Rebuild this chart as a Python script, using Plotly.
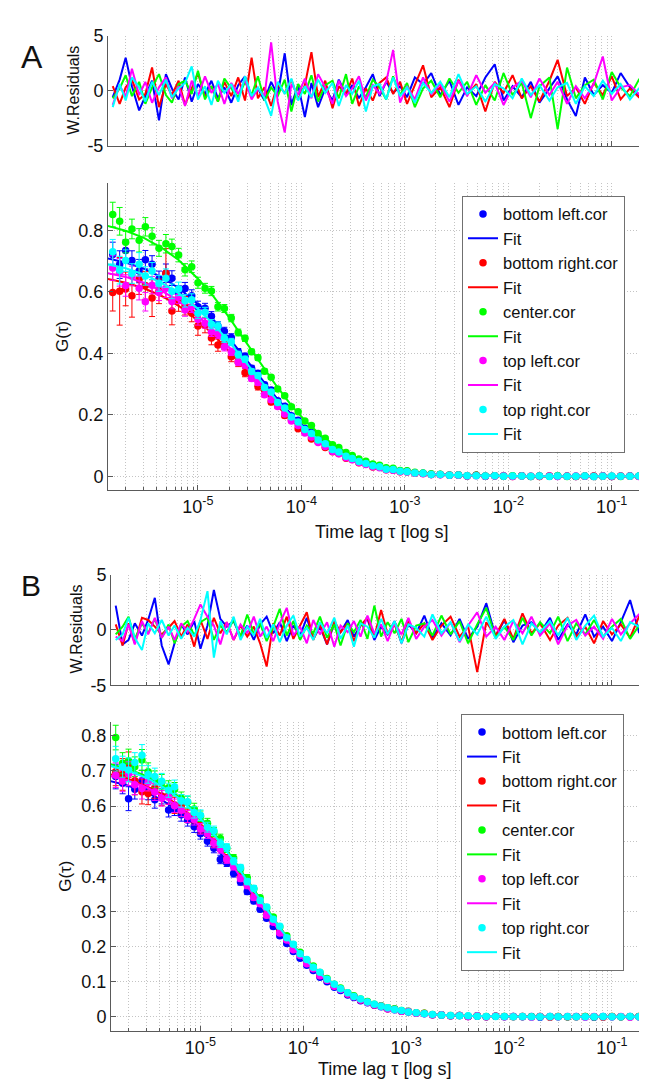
import math
import plotly.graph_objects as go

# ---------------- data ----------------
tau = [1.5e-6, 1.75e-6, 2.0e-6, 2.3e-6, 2.7e-6, 3.1e-6, 3.6e-6, 4.2e-6, 4.9e-6, 5.6e-6, 6.5e-6, 7.5e-6,
       8.7e-6, 1.0e-5, 1.17e-5, 1.35e-5, 1.56e-5, 1.8e-5, 2.1e-5, 2.45e-5, 2.85e-5, 3.3e-5, 3.8e-5, 4.4e-5,
       5.1e-5, 5.9e-5, 6.9e-5, 8.0e-5, 9.3e-5, 1.08e-4, 1.25e-4, 1.45e-4, 1.7e-4, 2.0e-4, 2.3e-4, 2.7e-4,
       3.1e-4, 3.6e-4, 4.2e-4, 4.9e-4, 5.7e-4, 6.6e-4, 7.7e-4, 9.0e-4, 1.05e-3, 1.25e-3, 1.5e-3, 1.8e-3,
       2.2e-3, 2.7e-3, 3.3e-3, 4.0e-3, 4.9e-3, 6.0e-3, 7.4e-3, 9.0e-3, 1.1e-2, 1.35e-2, 1.65e-2, 2.0e-2,
       2.5e-2, 3.0e-2, 3.7e-2, 4.5e-2, 5.5e-2, 6.7e-2, 8.2e-2, 0.1, 0.122, 0.15, 0.183, 0.27]

tau_fit = [1.3e-6, 2e-6, 3e-6, 4.5e-6, 6.5e-6, 1e-5, 1.4e-5, 2e-5, 2.8e-5, 4e-5, 5.6e-5, 8e-5, 1.1e-4,
           1.6e-4, 2.2e-4, 3.2e-4, 4.5e-4, 6.3e-4, 9e-4, 1.3e-3, 2e-3, 3.5e-3, 7e-3, 1.5e-2, 4e-2, 0.1, 0.27]

series_names = ["bottom left.cor", "bottom right.cor", "center.cor", "top left.cor", "top right.cor"]
series_colors = ["#0000ff", "#ff0000", "#00ff00", "#ff00ff", "#00ffff"]

# ----- Panel A : G(tau) data -----
A_blue_G = [0.722, 0.689, 0.735, 0.702, 0.668, 0.705, 0.690, 0.642, 0.661, 0.645, 0.598, 0.611,
            0.588, 0.552, 0.547, 0.521, 0.489, 0.472, 0.452, 0.405, 0.391, 0.352, 0.335, 0.298,
            0.281, 0.246, 0.228, 0.197, 0.182, 0.156, 0.143, 0.121, 0.109, 0.089, 0.081, 0.066,
            0.059, 0.049, 0.043, 0.035, 0.031, 0.024, 0.022, 0.017, 0.016, 0.011, 0.010, 0.006,
            0.006, 0.003, 0.004, 0.001, 0.003, 0.000, 0.002, 0.001, 0.000, 0.002, -0.001, 0.001,
            0.000, 0.001, 0.000, -0.001, 0.001, 0.000, 0.001, -0.001, 0.000, 0.001, 0.000, 0.000]
A_red_G = [0.598, 0.602, 0.610, 0.588, 0.642, 0.621, 0.580, 0.602, 0.661, 0.538, 0.572, 0.555,
           0.531, 0.489, 0.492, 0.450, 0.427, 0.431, 0.389, 0.372, 0.337, 0.326, 0.292, 0.281,
           0.242, 0.230, 0.198, 0.184, 0.155, 0.146, 0.121, 0.112, 0.094, 0.080, 0.074, 0.059,
           0.055, 0.044, 0.040, 0.030, 0.029, 0.021, 0.020, 0.015, 0.014, 0.010, 0.009, 0.006,
           0.006, 0.003, 0.004, 0.001, 0.003, 0.000, 0.002, 0.001, -0.001, 0.002, 0.000, -0.001,
           0.001, 0.000, 0.001, -0.001, 0.000, 0.001, 0.000, -0.001, 0.001, 0.000, 0.000, 0.001]
A_green_G = [0.852, 0.830, 0.762, 0.805, 0.768, 0.812, 0.781, 0.742, 0.757, 0.748, 0.720, 0.672,
             0.682, 0.630, 0.612, 0.603, 0.552, 0.546, 0.515, 0.468, 0.449, 0.405, 0.386, 0.342,
             0.322, 0.284, 0.262, 0.226, 0.210, 0.180, 0.165, 0.139, 0.124, 0.103, 0.094, 0.077,
             0.068, 0.056, 0.049, 0.040, 0.036, 0.028, 0.026, 0.019, 0.018, 0.013, 0.011, 0.008,
             0.007, 0.004, 0.004, 0.002, 0.003, 0.001, 0.002, 0.000, 0.002, 0.001, -0.001, 0.001,
             0.000, 0.002, -0.001, 0.000, 0.001, -0.001, 0.001, 0.000, -0.001, 0.001, 0.000, 0.001]
A_magenta_G = [0.678, 0.664, 0.621, 0.652, 0.612, 0.568, 0.622, 0.598, 0.612, 0.569, 0.584, 0.541,
               0.552, 0.510, 0.498, 0.470, 0.462, 0.421, 0.405, 0.371, 0.362, 0.318, 0.305, 0.265,
               0.249, 0.227, 0.203, 0.180, 0.165, 0.141, 0.128, 0.110, 0.097, 0.081, 0.073, 0.060,
               0.054, 0.045, 0.038, 0.031, 0.028, 0.021, 0.020, 0.015, 0.014, 0.010, 0.008, 0.006,
               0.005, 0.003, 0.003, 0.001, 0.002, 0.000, 0.001, 0.001, -0.001, 0.001, 0.000, 0.000,
               0.001, -0.001, 0.000, 0.001, 0.000, -0.001, 0.001, 0.000, 0.000, 0.001, -0.001, 0.000]
A_cyan_G = [0.731, 0.671, 0.702, 0.660, 0.690, 0.652, 0.668, 0.628, 0.645, 0.602, 0.610, 0.571,
            0.575, 0.531, 0.534, 0.495, 0.488, 0.449, 0.437, 0.396, 0.381, 0.341, 0.328, 0.289,
            0.274, 0.240, 0.222, 0.193, 0.177, 0.152, 0.139, 0.118, 0.106, 0.087, 0.079, 0.065,
            0.058, 0.048, 0.042, 0.034, 0.031, 0.023, 0.022, 0.016, 0.015, 0.011, 0.010, 0.006,
            0.006, 0.003, 0.004, 0.002, 0.002, 0.001, 0.002, 0.000, 0.001, 0.001, 0.000, 0.001,
            -0.001, 0.001, 0.000, 0.000, 0.001, -0.001, 0.000, 0.001, 0.000, 0.000, 0.001, 0.000]

A_err = [0.040, 0.045, 0.035, 0.032, 0.038, 0.030, 0.028, 0.026, 0.030, 0.024, 0.022, 0.020,
         0.019, 0.018, 0.016, 0.015, 0.014, 0.013, 0.012, 0.011, 0.010, 0.009, 0.009, 0.008,
         0.007, 0.007, 0.006, 0.006, 0.005, 0.005, 0.004, 0.004, 0.004, 0.003, 0.003, 0.003,
         0.003, 0.002, 0.002, 0.002, 0.002, 0.002, 0.002, 0.001, 0.001, 0.001, 0.001, 0.001,
         0.001, 0.001, 0.001, 0.001, 0.001, 0.001, 0.001, 0.001, 0.001, 0.001, 0.001, 0.001,
         0.001, 0.001, 0.001, 0.001, 0.001, 0.001, 0.001, 0.001, 0.001, 0.001, 0.001, 0.001]
A_red_err = [0.060, 0.110, 0.055, 0.070, 0.050, 0.045, 0.060, 0.040, 0.080, 0.045, 0.035, 0.030,
             0.028, 0.030, 0.025, 0.022, 0.020, 0.018, 0.016, 0.015, 0.013, 0.012, 0.011, 0.010,
             0.009, 0.008, 0.008, 0.007, 0.006, 0.006, 0.005, 0.005, 0.004, 0.004, 0.003, 0.003,
             0.003, 0.003, 0.002, 0.002, 0.002, 0.002, 0.002, 0.002, 0.001, 0.001, 0.001, 0.001,
             0.001, 0.001, 0.001, 0.001, 0.001, 0.001, 0.001, 0.001, 0.001, 0.001, 0.001, 0.001,
             0.001, 0.001, 0.001, 0.001, 0.001, 0.001, 0.001, 0.001, 0.001, 0.001, 0.001, 0.001]

# ----- Panel A : fits -----
A_blue_fit = [0.710, 0.696, 0.676, 0.647, 0.613, 0.560, 0.511, 0.450, 0.388, 0.321, 0.260, 0.201, 0.156,
              0.112, 0.084, 0.057, 0.039, 0.027, 0.017, 0.011, 0.006, 0.003, 0.001, 0.000, 0.000, 0.000, 0.000]
A_red_fit = [0.643, 0.630, 0.612, 0.586, 0.555, 0.507, 0.462, 0.407, 0.351, 0.291, 0.236, 0.182, 0.141,
             0.102, 0.076, 0.052, 0.036, 0.024, 0.016, 0.010, 0.006, 0.003, 0.001, 0.000, 0.000, 0.000, 0.000]
A_green_fit = [0.816, 0.799, 0.776, 0.743, 0.704, 0.643, 0.587, 0.517, 0.445, 0.369, 0.299, 0.231, 0.179,
               0.129, 0.096, 0.065, 0.045, 0.031, 0.020, 0.013, 0.007, 0.003, 0.001, 0.000, 0.000, 0.000, 0.000]
A_magenta_fit = [0.662, 0.649, 0.630, 0.603, 0.571, 0.522, 0.476, 0.420, 0.362, 0.299, 0.243, 0.188, 0.146,
                 0.105, 0.078, 0.053, 0.037, 0.025, 0.016, 0.010, 0.006, 0.003, 0.001, 0.000, 0.000, 0.000, 0.000]
A_cyan_fit = [0.691, 0.677, 0.657, 0.629, 0.596, 0.545, 0.497, 0.438, 0.377, 0.312, 0.253, 0.196, 0.152,
              0.109, 0.081, 0.055, 0.038, 0.026, 0.017, 0.011, 0.006, 0.003, 0.001, 0.000, 0.000, 0.000, 0.000]

# ----- Panel A : weighted residuals -----
A_blue_res = [-0.6, 1.0, 3.0, 0.4, -1.8, -0.5, 0.9, -2.7, 1.5, 0.2, -0.8, 1.2,
              -1.0, 0.6, -0.3, 0.9, -0.7, 0.3, -1.1, 0.5, 1.3, -0.6, 0.2, -0.9,
              0.8, -0.4, 3.4, -1.3, 0.5, -2.4, 0.7, -1.5, 0.2, -0.9, 1.0, -0.4,
              0.5, -0.7, 0.3, 1.5, -0.5, 0.8, -0.2, 0.4, -0.6, 1.2, 0.6, 1.6,
              -0.4, 0.9, -1.3, 0.3, -0.5, 1.2, 2.4, -0.9, 0.4, -0.6, 0.8, -1.1,
              0.2, 1.3, -0.8, -2.3, 1.2, -0.4, 0.5, -0.2, 1.6, 0.3, -0.5, 0.9]
A_red_res = [0.4, -1.2, 0.3, 1.0, -0.8, -0.3, 2.1, -1.5, 0.6, -0.4, 0.9, -1.3,
             0.2, 1.6, -0.6, 0.4, -1.0, 0.8, -0.5, 1.2, -0.9, 3.0, -0.7, 0.3,
             -1.4, 0.6, -0.2, 1.0, -0.8, 0.5, 3.5, -0.6, 0.9, -1.6, 0.4, -0.3,
             1.1, -1.4, 0.2, -0.9, 0.7, 1.2, -0.3, 0.8, -1.2, 0.5, 2.3, -0.6,
             0.3, -1.5, 1.0, -0.4, 0.6, -1.9, 0.8, -0.2, 1.4, -0.7, 0.4, -1.0,
             0.9, 2.8, -0.5, 0.3, -1.2, 0.7, -0.4, 1.3, -0.8, 0.2, -0.6, 0.5]
A_green_res = [-0.7, 0.2, 1.4, -0.5, 0.8, -1.2, 0.3, 1.5, -0.4, -1.1, 0.6, 0.9,
               -0.3, 1.8, -0.8, 0.4, -1.0, 1.1, 0.2, -0.6, 0.8, -0.4, 1.3, -0.9,
               0.3, -0.5, 1.0, -1.9, 0.6, -0.3, 1.4, -1.0, 0.5, 0.9, -0.7, 1.5,
               -1.2, 0.4, -0.6, 1.0, 0.3, -0.8, 1.3, -0.4, 0.7, -1.5, 0.2, 0.9,
               -0.6, 1.1, -0.2, 0.8, -1.3, 0.5, -0.9, 1.6, -0.4, 0.7, -2.5, 0.4,
               1.2, -3.5, 2.1, -0.7, 0.5, 1.0, -0.8, 1.7, 0.3, -0.5, 1.0, -0.2]
A_magenta_res = [-1.3, 0.5, -0.6, 2.0, -0.4, 0.8, -1.1, 0.3, 1.2, -0.7, 0.4, -1.4,
                 0.9, -0.5, 1.3, -0.2, 0.6, -1.2, 0.7, -0.3, 1.0, -0.8, 0.2, -0.5,
                 4.4, -1.0, -3.8, 0.6, -0.4, 1.1, -0.7, 1.5, 0.3, -1.2, 0.9, -0.5,
                 0.2, 1.3, -0.9, 0.5, -0.3, 0.8, 3.7, -1.1, 0.4, -0.8, 1.2, -0.3,
                 0.6, -1.0, 0.9, -0.5, 1.4, -0.2, 0.7, -1.3, 0.3, 0.9, -0.6, 1.1,
                 -0.4, 0.8, -1.2, 0.4, -0.7, 0.6, 3.1, -0.9, 0.3, 0.5, -0.3, 0.6]
A_cyan_res = [-1.5, 0.6, -0.9, 1.2, 0.3, -1.0, 0.8, -0.4, 1.0, -0.6, 0.2, 0.7,
              2.2, -0.8, 0.4, -1.3, 0.9, -0.2, 0.6, -1.0, 1.3, -0.5, 0.3, -0.7,
              -2.3, 0.8, -0.3, 1.1, -0.9, 0.4, -0.6, 1.0, -0.2, 0.7, -1.4, 0.5,
              -0.3, 0.9, -1.9, 0.4, 0.6, -0.8, 1.2, -0.5, 0.3, -1.1, 0.7, -0.2,
              0.8, -0.6, 1.5, -0.3, 0.4, -1.0, 0.6, 0.2, -0.7, 1.1, -0.4, 0.5,
              -0.9, 0.3, 0.7, -1.2, 0.4, -0.5, 0.9, -0.3, 0.6, -0.8, 0.2, 0.4]

# ----- Panel B : G(tau) data -----
B_blue_G = [0.684, 0.665, 0.621, 0.648, 0.672, 0.643, 0.618, 0.628, 0.589, 0.592, 0.575, 0.560,
            0.541, 0.521, 0.500, 0.480, 0.448, 0.439, 0.408, 0.384, 0.357, 0.330, 0.306, 0.281,
            0.257, 0.231, 0.209, 0.186, 0.167, 0.147, 0.132, 0.113, 0.100, 0.084, 0.075, 0.062,
            0.055, 0.046, 0.040, 0.033, 0.029, 0.023, 0.020, 0.016, 0.014, 0.010, 0.009, 0.006,
            0.005, 0.003, 0.004, 0.001, 0.002, 0.000, 0.002, 0.000, 0.001, 0.000, 0.001, -0.001,
            0.001, 0.000, 0.000, 0.001, 0.000, -0.001, 0.001, 0.000, 0.000, 0.001, 0.000, 0.000]
B_red_G = [0.698, 0.690, 0.718, 0.672, 0.641, 0.636, 0.652, 0.628, 0.630, 0.602, 0.601, 0.572,
           0.568, 0.538, 0.528, 0.496, 0.484, 0.451, 0.432, 0.398, 0.378, 0.344, 0.325, 0.291,
           0.272, 0.241, 0.221, 0.194, 0.176, 0.153, 0.138, 0.118, 0.105, 0.088, 0.079, 0.065,
           0.058, 0.048, 0.042, 0.034, 0.031, 0.023, 0.022, 0.016, 0.015, 0.011, 0.010, 0.006,
           0.006, 0.003, 0.004, 0.001, 0.003, 0.000, 0.002, 0.001, 0.000, 0.001, 0.000, 0.001,
           -0.001, 0.001, 0.000, 0.000, 0.001, 0.000, -0.001, 0.001, 0.000, 0.000, 0.001, 0.000]
B_green_G = [0.795, 0.722, 0.728, 0.712, 0.731, 0.698, 0.676, 0.668, 0.652, 0.648, 0.622, 0.611,
             0.592, 0.571, 0.551, 0.526, 0.508, 0.479, 0.452, 0.421, 0.396, 0.364, 0.339, 0.310,
             0.284, 0.256, 0.231, 0.205, 0.184, 0.162, 0.145, 0.126, 0.109, 0.093, 0.082, 0.069,
             0.060, 0.051, 0.044, 0.036, 0.032, 0.026, 0.023, 0.018, 0.016, 0.012, 0.010, 0.007,
             0.006, 0.004, 0.004, 0.002, 0.003, 0.001, 0.002, 0.001, 0.001, 0.001, 0.000, 0.001,
             0.000, 0.001, 0.000, 0.000, 0.001, 0.000, 0.000, 0.001, 0.000, 0.000, 0.001, 0.000]
B_magenta_G = [0.688, 0.671, 0.692, 0.661, 0.650, 0.668, 0.640, 0.622, 0.625, 0.601, 0.588, 0.570,
               0.562, 0.535, 0.522, 0.494, 0.478, 0.448, 0.428, 0.394, 0.374, 0.340, 0.322, 0.289,
               0.269, 0.239, 0.219, 0.191, 0.175, 0.151, 0.137, 0.117, 0.104, 0.087, 0.078, 0.065,
               0.057, 0.048, 0.041, 0.034, 0.030, 0.023, 0.021, 0.016, 0.015, 0.010, 0.009, 0.006,
               0.006, 0.003, 0.004, 0.001, 0.003, 0.000, 0.002, 0.000, 0.001, 0.001, -0.001, 0.001,
               0.000, 0.000, 0.001, 0.000, -0.001, 0.001, 0.000, 0.000, 0.001, -0.001, 0.000, 0.001]
B_cyan_G = [0.735, 0.712, 0.703, 0.724, 0.745, 0.690, 0.684, 0.671, 0.645, 0.655, 0.615, 0.612,
            0.582, 0.574, 0.540, 0.530, 0.494, 0.482, 0.443, 0.425, 0.385, 0.366, 0.331, 0.313,
            0.278, 0.258, 0.225, 0.207, 0.180, 0.163, 0.141, 0.127, 0.107, 0.093, 0.080, 0.069,
            0.058, 0.051, 0.042, 0.036, 0.030, 0.026, 0.021, 0.018, 0.014, 0.012, 0.009, 0.007,
            0.005, 0.004, 0.003, 0.003, 0.002, 0.001, 0.001, 0.001, 0.000, 0.001, 0.000, 0.000,
            0.001, 0.000, 0.001, 0.000, 0.000, 0.000, 0.001, 0.000, 0.000, 0.001, 0.000, 0.000]

B_err = [0.035, 0.030, 0.034, 0.028, 0.030, 0.025, 0.024, 0.022, 0.020, 0.019, 0.018, 0.017,
         0.016, 0.015, 0.014, 0.013, 0.012, 0.011, 0.010, 0.009, 0.009, 0.008, 0.007, 0.007,
         0.006, 0.006, 0.005, 0.005, 0.004, 0.004, 0.004, 0.003, 0.003, 0.003, 0.003, 0.002,
         0.002, 0.002, 0.002, 0.002, 0.002, 0.001, 0.001, 0.001, 0.001, 0.001, 0.001, 0.001,
         0.001, 0.001, 0.001, 0.001, 0.001, 0.001, 0.001, 0.001, 0.001, 0.001, 0.001, 0.001,
         0.001, 0.001, 0.001, 0.001, 0.001, 0.001, 0.001, 0.001, 0.001, 0.001, 0.001, 0.001]
B_red_err = [0.040, 0.045, 0.036, 0.040, 0.035, 0.032, 0.030, 0.027, 0.025, 0.023, 0.021, 0.019,
             0.016, 0.015, 0.014, 0.013, 0.012, 0.011, 0.010, 0.009, 0.009, 0.008, 0.007, 0.007,
             0.006, 0.006, 0.005, 0.005, 0.004, 0.004, 0.004, 0.003, 0.003, 0.003, 0.003, 0.002,
             0.002, 0.002, 0.002, 0.002, 0.002, 0.001, 0.001, 0.001, 0.001, 0.001, 0.001, 0.001,
             0.001, 0.001, 0.001, 0.001, 0.001, 0.001, 0.001, 0.001, 0.001, 0.001, 0.001, 0.001,
             0.001, 0.001, 0.001, 0.001, 0.001, 0.001, 0.001, 0.001, 0.001, 0.001, 0.001, 0.001]

# ----- Panel B : fits -----
B_blue_fit = [0.672, 0.658, 0.639, 0.612, 0.580, 0.530, 0.483, 0.426, 0.367, 0.304, 0.246, 0.190, 0.148,
              0.106, 0.079, 0.054, 0.037, 0.025, 0.016, 0.010, 0.006, 0.003, 0.001, 0.000, 0.000, 0.000, 0.000]
B_red_fit = [0.691, 0.677, 0.657, 0.629, 0.596, 0.545, 0.497, 0.438, 0.377, 0.312, 0.253, 0.196, 0.152,
             0.109, 0.081, 0.055, 0.038, 0.026, 0.017, 0.011, 0.006, 0.003, 0.001, 0.000, 0.000, 0.000, 0.000]
B_green_fit = [0.720, 0.705, 0.685, 0.656, 0.621, 0.568, 0.518, 0.456, 0.393, 0.326, 0.264, 0.204, 0.158,
               0.114, 0.085, 0.058, 0.040, 0.027, 0.018, 0.011, 0.006, 0.003, 0.001, 0.000, 0.000, 0.000, 0.000]
B_magenta_fit = [0.686, 0.672, 0.653, 0.625, 0.592, 0.541, 0.493, 0.435, 0.375, 0.310, 0.252, 0.194, 0.151,
                 0.109, 0.081, 0.055, 0.038, 0.026, 0.017, 0.011, 0.006, 0.003, 0.001, 0.000, 0.000, 0.000, 0.000]
B_cyan_fit = [0.715, 0.700, 0.680, 0.651, 0.617, 0.564, 0.514, 0.453, 0.390, 0.323, 0.262, 0.203, 0.157,
              0.113, 0.084, 0.057, 0.039, 0.027, 0.018, 0.011, 0.006, 0.003, 0.001, 0.000, 0.000, 0.000, 0.000]

# ----- Panel B : weighted residuals -----
B_blue_res = [2.2, -1.3, -0.9, 0.6, -0.5, 0.9, 2.9, -1.4, -3.1, -1.2, 0.5, -0.4,
              0.8, -1.7, 0.4, 3.6, 1.0, 0.3, 0.8, -0.6, 0.4, -0.9, 0.5, 1.2,
              -0.3, 0.7, -1.0, 0.4, -0.5, 1.1, -0.8, 0.3, -1.3, 0.6, -0.2, 0.9,
              -0.6, 0.4, 1.0, -0.9, 0.3, -0.4, 0.8, -1.2, 0.5, -0.3, 1.3, -0.7,
              0.6, -0.5, 1.0, -0.8, 0.3, 2.4, -0.6, 0.9, -1.1, 0.4, 0.7, -0.3,
              1.1, -0.9, 0.5, -0.4, 1.4, -0.6, 0.3, -1.0, 0.7, 2.7, -0.2, 0.5]
B_red_res = [0.5, -1.4, 0.6, -1.2, 1.1, 0.9, 0.3, -0.4, 0.2, 0.8, -0.6, 0.5,
             -1.5, 0.9, -0.8, 1.1, -0.3, 0.7, -0.9, 0.4, -0.6, 0.3, -1.2, -3.3,
             0.6, -0.5, 1.2, -0.8, 0.4, 1.6, -0.9, 0.5, -1.3, 0.8, -0.2, 0.6,
             -1.0, 0.4, 1.1, -0.6, 1.8, -0.4, 0.5, -1.1, 0.8, -0.3, 0.6, -0.9,
             0.4, 1.2, -0.6, 0.3, -3.8, 0.7, -0.5, 1.0, -0.8, 1.5, -0.3, 0.6,
             -0.9, 0.4, 1.1, -0.6, 0.3, -1.2, 0.8, -0.4, 0.5, -0.7, 1.2, 0.3]
B_green_res = [-0.4, 0.3, 1.2, -0.8, 0.6, -0.3, 1.0, -0.7, 0.5, -1.2, 0.3, 0.8,
               -0.5, 0.7, 1.1, -0.9, 0.4, -0.2, 0.9, -0.6, 1.4, -0.4, 0.6, -1.0,
               0.3, 1.9, -0.5, 0.8, -0.9, 0.4, -0.3, 1.2, -0.7, 0.5, -1.4, 0.6,
               -0.2, 0.9, -0.8, 2.2, -0.6, 0.7, -0.3, 1.0, -1.1, 0.4, 0.6, -0.5,
               1.3, -0.4, 0.8, -1.2, 0.5, 2.0, -0.7, 0.3, -0.9, 1.1, -0.5, 0.7,
               -0.3, 1.2, -1.0, 0.6, -0.4, 0.9, -0.6, 0.3, 1.0, -0.8, 0.4, 0.2]
B_magenta_res = [-0.6, -1.0, 0.5, -1.3, 0.8, -0.4, 1.1, -0.7, 0.3, -0.9, 0.6, -0.2,
                 1.0, 2.3, 1.2, 0.4, -1.3, 0.7, -0.9, 0.5, -0.3, 1.2, -0.6, 0.3,
                 -1.0, 0.6, 2.0, -0.5, 0.3, -1.2, 0.9, -0.4, 0.7, -1.5, 0.4, -0.2,
                 0.8, -0.6, 1.3, -0.3, 0.5, -1.0, 0.6, -0.4, 1.1, -0.8, 0.3, 0.9,
                 -0.5, 0.7, -1.1, 0.4, 1.6, -0.6, 0.3, -0.9, 0.8, -0.3, 1.2, -0.5,
                 0.6, -1.3, 0.4, 0.9, -0.5, 0.3, -0.8, 1.0, -0.4, 0.6, 1.4, 0.8]
B_cyan_res = [-0.9, -0.4, 1.1, -0.7, -1.8, 0.6, -0.3, 0.9, -0.5, 0.4, -0.8, 0.2,
              -0.6, 0.9, 3.5, -2.5, 0.8, -0.4, 1.2, -0.9, 0.3, -0.5, 1.0, -0.7,
              0.5, -1.1, 0.4, 1.3, -0.6, 0.2, -0.9, 0.7, -0.3, 1.1, -0.8, 0.4,
              -1.5, 0.6, 0.3, -0.7, 1.0, -0.4, 0.8, -1.2, 0.5, 0.2, -0.6, 1.4,
              -0.3, 0.7, -1.0, 0.5, -0.4, 1.2, -0.8, 0.3, 0.9, -1.3, 0.6, -0.2,
              0.8, -0.5, 1.1, -0.9, 0.4, 1.3, -0.6, 0.2, -1.0, 0.7, 0.3, -0.4]

x_tick_vals = [1e-5, 1e-4, 1e-3, 1e-2, 1e-1]
x_tick_text = ["10<sup>-5</sup>", "10<sup>-4</sup>", "10<sup>-3</sup>", "10<sup>-2</sup>", "10<sup>-1</sup>"]
x_minor_vals = [m * 10.0 ** e for e in range(-6, 0) for m in range(2, 10)]

panelA = dict(G=[A_blue_G, A_red_G, A_green_G, A_magenta_G, A_cyan_G],
              err=[A_err, A_red_err, A_err, A_err, A_err],
              fit=[A_blue_fit, A_red_fit, A_green_fit, A_magenta_fit, A_cyan_fit],
              res=[A_blue_res, A_red_res, A_green_res, A_magenta_res, A_cyan_res])
panelB = dict(G=[B_blue_G, B_red_G, B_green_G, B_magenta_G, B_cyan_G],
              err=[B_err, B_red_err, B_err, B_err, B_err],
              fit=[B_blue_fit, B_red_fit, B_green_fit, B_magenta_fit, B_cyan_fit],
              res=[B_blue_res, B_red_res, B_green_res, B_magenta_res, B_cyan_res])

for p in (panelA, panelB):
    for k in ("G", "err", "res"):
        for arr in p[k]:
            assert len(arr) == len(tau), (k, len(arr))
    for arr in p["fit"]:
        assert len(arr) == len(tau_fit), len(arr)

# ---------------- figure ----------------
W, H = 647, 1082
FONT = "Liberation Sans, Arial, Helvetica, sans-serif"
AXC = "#5a5a5a"
GRIDC = "#c4c4c4"
GDASH = "1px,2px"
LEGFONT = 16.5


def px(x):
    return x / W


def py(y):
    return 1 - y / H


fig = go.Figure()

panels = [(panelA, "x", "y", "x2", "y2", "legend"), (panelB, "x3", "y3", "x4", "y4", "legend2")]
for p, rx, ry, gx, gy, lg in panels:
    for i in range(5):
        c = series_colors[i]
        fig.add_trace(go.Scatter(x=tau, y=p["res"][i], mode="lines", xaxis=rx, yaxis=ry,
                                 line=dict(color=c, width=2), showlegend=False, hoverinfo="skip"))
    for i in range(5):
        c = series_colors[i]
        fig.add_trace(go.Scatter(x=tau, y=p["G"][i], mode="markers", xaxis=gx, yaxis=gy,
                                 name=series_names[i], legend=lg,
                                 marker=dict(color=c, size=7.5),
                                 error_y=dict(type="data", array=p["err"][i], color=c,
                                              thickness=1, width=3)))
        fig.add_trace(go.Scatter(x=tau_fit, y=p["fit"][i], mode="lines", xaxis=gx, yaxis=gy,
                                 name="Fit", legend=lg, line=dict(color=c, width=2)))

xr = [math.log10(1.35e-6), math.log10(0.262)]


def xaxis(domain, anchor, labels):
    return dict(type="log", range=xr, domain=domain, anchor=anchor,
                showline=True, linecolor=AXC, linewidth=1, mirror=False,
                ticks="inside", ticklen=5, tickcolor=AXC, tickwidth=1,
                tickmode="array", tickvals=x_tick_vals, ticktext=x_tick_text,
                showticklabels=labels, tickfont=dict(size=18, color="#111"),
                showgrid=True, gridcolor=GRIDC, griddash=GDASH, gridwidth=1,
                zeroline=False,
                minor=dict(tickmode="array", tickvals=x_minor_vals, ticks="inside", ticklen=3,
                           tickcolor=AXC, tickwidth=1, showgrid=True, gridcolor=GRIDC,
                           griddash=GDASH, gridwidth=1))


def yaxis(domain, anchor, rng, vals, text, size):
    return dict(range=rng, domain=domain, anchor=anchor,
                showline=True, linecolor=AXC, linewidth=1, mirror=False,
                ticks="inside", ticklen=5, tickcolor=AXC, tickwidth=1,
                tickmode="array", tickvals=vals, ticktext=text,
                tickfont=dict(size=size, color="#111"),
                showgrid=True, gridcolor=GRIDC, griddash=GDASH, gridwidth=1,
                zeroline=False)


dA = [px(100), 1.0]
dB = [px(103), 1.0]
fig.update_layout(
    width=W, height=H, margin=dict(l=0, r=0, t=0, b=0),
    paper_bgcolor="white", plot_bgcolor="white",
    font=dict(family=FONT, color="#111"),
    xaxis=xaxis(dA, "y", False),
    yaxis=yaxis([py(130), py(18)], "x", [-5, 5], [-5, 0, 5], ["-5", "0", "5"], 18),
    xaxis2=xaxis(dA, "y2", True),
    yaxis2=yaxis([py(481), py(168)], "x2", [-0.045, 0.955], [0, 0.2, 0.4, 0.6, 0.8],
                 ["0", "0.2", "0.4", "0.6", "0.8"], 18),
    xaxis3=xaxis(dB, "y3", False),
    yaxis3=yaxis([py(680), py(567)], "x3", [-5, 5], [-5, 0, 5], ["-5", "0", "5"], 18),
    xaxis4=xaxis(dB, "y4", True),
    yaxis4=yaxis([py(1032), py(717)], "x4", [-0.04, 0.84],
                 [0, 0.1, 0.2, 0.3, 0.4, 0.5, 0.6, 0.7, 0.8],
                 ["0", "0.1", "0.2", "0.3", "0.4", "0.5", "0.6", "0.7", "0.8"], 18),
    legend=dict(x=px(454), y=py(181), xanchor="left", yanchor="top",
                bgcolor="white", bordercolor="#707070", borderwidth=1,
                font=dict(size=LEGFONT, family=FONT, color="#111"), tracegroupgap=0),
    legend2=dict(x=px(453), y=py(709), xanchor="left", yanchor="top",
                 bgcolor="white", bordercolor="#707070", borderwidth=1,
                 font=dict(size=LEGFONT, family=FONT, color="#111"), tracegroupgap=0),
    showlegend=True,
)

ann = [
    ("A", 24, 40, 0, 32),
    ("B", 23, 578, 0, 30),
    ("W.Residuals", 66, 74, -90, 16),
    ("G(τ)", 55, 325, -90, 17),
    ("Time lag τ [log s]", 374, 524, 0, 18),
    ("W.Residuals", 68, 623, -90, 16),
    ("G(τ)", 58, 875, -90, 17),
    ("Time lag τ [log s]", 377, 1071, 0, 18),
]
for text, x, y, ang, size in ann:
    fig.add_annotation(text=text, x=px(x), y=py(y), xref="paper", yref="paper",
                       xanchor="center", yanchor="middle", showarrow=False, textangle=ang,
                       font=dict(size=size, family=FONT, color="#111"))

fig.write_html("out.html")
